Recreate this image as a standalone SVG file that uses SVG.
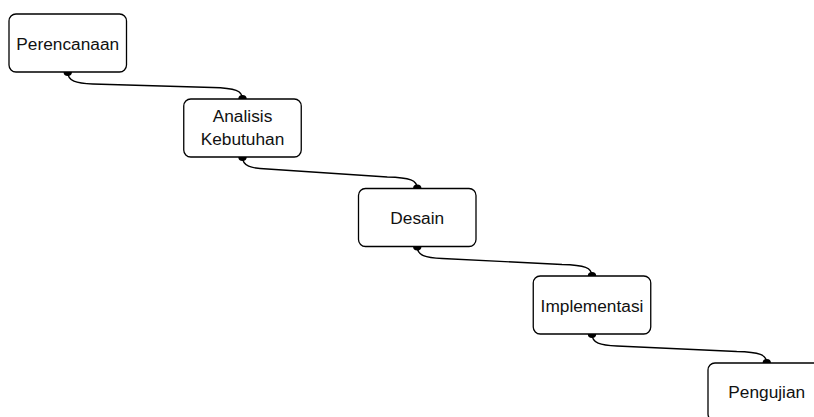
<svg xmlns="http://www.w3.org/2000/svg" width="814" height="417" viewBox="0 0 814 417">
  <style>
    .box { fill: #ffffff; stroke: #000000; stroke-width: 1.3; }
    .lbl { font-family: "Liberation Sans", Arial, Helvetica, sans-serif; font-size: 17.3px; fill: #111111; text-anchor: middle; }
    .edge { fill: none; stroke: #000000; stroke-width: 1.4; marker-start: url(#dot); marker-end: url(#dot); }
  </style>
  <defs>
    <marker id="dot" viewBox="-5 -5 10 10" markerWidth="10" markerHeight="10" refX="0" refY="0" markerUnits="userSpaceOnUse" orient="auto">
      <ellipse cx="0" cy="0" rx="4" ry="4.2" fill="#000000"/>
    </marker>
  </defs>
  <rect width="814" height="417" fill="#ffffff"/>
  <g id="connectors">
    <path class="edge" d="M67.75,72 C67.75,81 75.75,83.5 92.75,84 L212.5,87.5 C235.5,88 242.5,91 242.5,99"/>
    <path class="edge" d="M242.5,157 C242.5,166 250.5,168.5 267.5,169 L387.25,177 C410.25,177.5 417.25,180.5 417.25,188.5"/>
    <path class="edge" d="M417.25,246.5 C417.25,255.5 425.25,258 442.25,258.5 L562,264.5 C585,265 592,268 592,276"/>
    <path class="edge" d="M592,334 C592,343 600,345.5 617,346 L736.75,351.5 C759.75,352 766.75,355 766.75,363"/>
  </g>
  <g id="perencanaan">
    <rect class="box" x="9" y="14" width="117.5" height="58" rx="7"/>
    <text class="lbl" x="67.75" y="49.5">Perencanaan</text>
  </g>
  <g id="analisis-kebutuhan">
    <rect class="box" x="183.75" y="99" width="117.5" height="58" rx="7"/>
    <text class="lbl" x="242.5" y="122">Analisis</text>
    <text class="lbl" x="242.5" y="144.5">Kebutuhan</text>
  </g>
  <g id="desain">
    <rect class="box" x="358.5" y="188.5" width="117.5" height="58" rx="7"/>
    <text class="lbl" x="417.25" y="224">Desain</text>
  </g>
  <g id="implementasi">
    <rect class="box" x="533.25" y="276" width="117.5" height="58" rx="7"/>
    <text class="lbl" x="592" y="311.5">Implementasi</text>
  </g>
  <g id="pengujian">
    <rect class="box" x="708" y="363" width="117.5" height="58" rx="7"/>
    <text class="lbl" x="766.75" y="398">Pengujian</text>
  </g>
</svg>
